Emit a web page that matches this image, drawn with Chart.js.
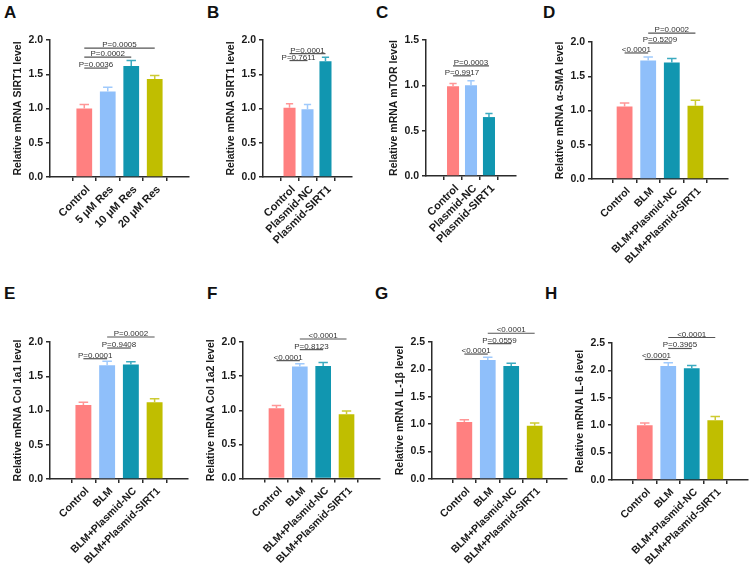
<!DOCTYPE html>
<html>
<head>
<meta charset="utf-8">
<script src="https://cdn.jsdelivr.net/npm/chart.js@4.4.1/dist/chart.umd.min.js"></script>
<style>
    html, body { margin: 0; padding: 0; background: #fff; }
    body { position: relative; width: 753px; height: 568px; overflow: hidden; font-family: "Liberation Sans", Arial, sans-serif; }
    canvas { position: absolute; }
    .tag { position: absolute; font-weight: bold; font-size: 17px; line-height: 1; color: #111; }
</style>
</head>
<body>
<div class="tag" style="left:4px;top:4px">A</div>
<div class="tag" style="left:207px;top:4px">B</div>
<div class="tag" style="left:376px;top:4px">C</div>
<div class="tag" style="left:543px;top:4px">D</div>
<div class="tag" style="left:4px;top:285px">E</div>
<div class="tag" style="left:207px;top:285px">F</div>
<div class="tag" style="left:375px;top:285px">G</div>
<div class="tag" style="left:545px;top:285px">H</div>

<canvas id="chartA"></canvas>
<canvas id="chartB"></canvas>
<canvas id="chartC"></canvas>
<canvas id="chartD"></canvas>
<canvas id="chartE"></canvas>
<canvas id="chartF"></canvas>
<canvas id="chartG"></canvas>
<canvas id="chartH"></canvas>

<script>
// 그룹 이름
const resGroups = ['Control', '5 μM Res', '10 μM Res', '20 μM Res'];
const plasmidGroups = ['Control', 'Plasmid-NC', 'Plasmid-SIRT1'];
const blmGroups = ['Control', 'BLM', 'BLM+Plasmid-NC', 'BLM+Plasmid-SIRT1'];

// 평균값과 오차
const sirt1Res = [1.00, 1.25, 1.62, 1.43];
const sirt1ResErr = [0.06, 0.06, 0.08, 0.05];
const sirt1Plasmid = [1.01, 0.99, 1.69];
const sirt1PlasmidErr = [0.06, 0.07, 0.06];
const mtorPlasmid = [0.99, 1.00, 0.65];
const mtorPlasmidErr = [0.03, 0.05, 0.04];
const smaBlm = [1.06, 1.73, 1.70, 1.07];
const smaBlmErr = [0.05, 0.05, 0.06, 0.08];
const col1a1Blm = [1.08, 1.66, 1.67, 1.12];
const col1a1BlmErr = [0.04, 0.06, 0.04, 0.05];
const col1a2Blm = [1.03, 1.64, 1.65, 0.94];
const col1a2BlmErr = [0.04, 0.04, 0.05, 0.05];
const il1bBlm = [1.04, 2.17, 2.06, 0.97];
const il1bBlmErr = [0.04, 0.05, 0.05, 0.05];
const il6Blm = [1.00, 2.08, 2.04, 1.09];
const il6BlmErr = [0.04, 0.06, 0.05, 0.07];

// 유의성 표시: [시작 그룹, 끝 그룹, 높이(값), 라벨]
const sirt1ResSig = [[0, 1, 1.59, 'P=0.0036'], [0, 2, 1.75, 'P=0.0002'], [0, 3, 1.88, 'P=0.0005']];
const sirt1PlasmidSig = [[0, 1, 1.70, 'P=0.7611'], [0, 2, 1.80, 'P=0.0001']];
const mtorPlasmidSig = [[0, 1, 1.105, 'P=0.9917'], [0, 2, 1.215, 'P=0.0003']];
const smaBlmSig = [[0, 1, 1.84, '<0.0001'], [1, 2, 1.985, 'P=0.5209'], [1, 3, 2.13, 'P=0.0002']];
const col1a1BlmSig = [[0, 1, 1.756, 'P=0.0001'], [1, 2, 1.912, 'P=0.9408'], [1, 3, 2.073, 'P=0.0002']];
const col1a2BlmSig = [[0, 1, 1.727, '<0.0001'], [1, 2, 1.888, 'P=0.8123'], [1, 3, 2.044, '<0.0001']];
const il1bBlmSig = [[0, 1, 2.28, '<0.0001'], [1, 2, 2.47, 'P=0.0559'], [1, 3, 2.66, '<0.0001']];
const il6BlmSig = [[0, 1, 2.20, '<0.0001'], [1, 2, 2.40, 'P=0.3965'], [1, 3, 2.60, '<0.0001']];

const barColors = ['rgb(255,128,128)', 'rgb(143,191,250)', 'rgb(17,150,176)', 'rgb(192,190,0)'];
const errColors = ['rgb(255,150,150)', 'rgb(160,202,252)', 'rgb(60,170,192)', 'rgb(205,203,50)'];
const axisColor = '#2b2b2b';
const textColor = '#1a1a1a';

Chart.defaults.font.family = '"Liberation Sans", Arial, sans-serif';

// 오차 막대 그리기
const errorBars = {
    id: 'errorBars',
    afterDatasetsDraw(chart) {
        const ctx = chart.ctx;
        const yScale = chart.scales.y;
        const ds = chart.data.datasets[0];
        chart.getDatasetMeta(0).data.forEach(function (bar, i) {
            const top = yScale.getPixelForValue(ds.data[i].y + ds.errors[i]);
            const half = bar.width * 0.3;
            ctx.save();
            ctx.strokeStyle = errColors[i];
            ctx.lineWidth = 1.5;
            ctx.beginPath();
            ctx.moveTo(bar.x, bar.y);
            ctx.lineTo(bar.x, top);
            ctx.moveTo(bar.x - half, top);
            ctx.lineTo(bar.x + half, top);
            ctx.stroke();
            ctx.restore();
        });
    }
};

// 유의성 선과 P값 그리기
const sigBrackets = {
    id: 'sigBrackets',
    afterDraw(chart) {
        const ctx = chart.ctx;
        const xScale = chart.scales.x;
        const yScale = chart.scales.y;
        chart.data.datasets[0].sig.forEach(function (b) {
            const x1 = xScale.getPixelForValue(b[0]);
            const x2 = xScale.getPixelForValue(b[1]);
            const y = yScale.getPixelForValue(b[2]);
            ctx.save();
            ctx.strokeStyle = '#555';
            ctx.lineWidth = 1.2;
            ctx.beginPath();
            ctx.moveTo(x1, y);
            ctx.lineTo(x2, y);
            ctx.stroke();
            ctx.fillStyle = '#333';
            ctx.font = '8px "Liberation Sans", Arial, sans-serif';
            ctx.textAlign = 'center';
            ctx.textBaseline = 'alphabetic';
            ctx.fillText(b[3], (x1 + x2) / 2, y - 1);
            ctx.restore();
        });
    }
};

function makeChart(p) {
    const canvas = document.getElementById(p.id);
    const left = p.axisX - 45;
    const width = Math.round(p.right - left + 4);
    canvas.width = width;
    canvas.height = p.rowH;
    canvas.style.left = left + 'px';
    canvas.style.top = p.rowTop + 'px';
    canvas.style.width = width + 'px';
    canvas.style.height = p.rowH + 'px';
    const n = p.groups.length;

    return new Chart(canvas.getContext('2d'), {
        type: 'bar',
        data: {
            datasets: [{
                data: p.values.map(function (v, i) { return { x: i, y: v }; }),
                errors: p.errors,
                sig: p.sig,
                backgroundColor: barColors.slice(0, n),
                barPercentage: 0.67,
                categoryPercentage: 1
            }]
        },
        options: {
            responsive: false,
            animation: false,
            devicePixelRatio: 1,
            layout: { padding: { top: p.top - p.rowTop, right: width - (p.right - left), left: 0, bottom: 0 } },
            plugins: {
                legend: { display: false },
                tooltip: { enabled: false }
            },
            scales: {
                x: {
                    type: 'linear',
                    min: -p.pad,
                    max: n - 1 + p.pad,
                    afterBuildTicks: function (s) {
                        s.ticks = p.groups.map(function (g, i) { return { value: i }; });
                    },
                    afterFit: function (s) {
                        s.height = p.rowTop + p.rowH - p.bottom;
                        s.paddingLeft = 0;
                        s.paddingRight = 0;
                    },
                    ticks: {
                        autoSkip: false,
                        minRotation: 45,
                        maxRotation: 45,
                        padding: 2,
                        labelOffset: 4,
                        font: { size: p.labelSize, weight: 'bold' },
                        color: textColor,
                        callback: function (v) { return p.groups[v]; }
                    },
                    grid: { drawOnChartArea: false, tickLength: 4, color: axisColor, lineWidth: 1.5 },
                    border: { color: axisColor, width: 1.5 }
                },
                y: {
                    min: 0,
                    max: p.yMax,
                    afterFit: function (s) {
                        s.width = 45;
                        s.paddingTop = 0;
                        s.paddingBottom = 0;
                    },
                    ticks: {
                        stepSize: 0.5,
                        padding: 3,
                        font: { size: 10.5, weight: 'bold' },
                        color: textColor,
                        callback: function (v) { return v.toFixed(1); }
                    },
                    title: {
                        display: true,
                        text: p.title,
                        font: { size: 10.5, weight: 'bold' },
                        color: textColor,
                        padding: { top: 6.5, bottom: 0 }
                    },
                    grid: { drawOnChartArea: false, tickLength: 4, color: axisColor, lineWidth: 1.5 },
                    border: { color: axisColor, width: 1.5 }
                }
            }
        },
        plugins: [errorBars, sigBrackets]
    });
}

// 패널 위치
makeChart({ id: 'chartA', groups: resGroups, values: sirt1Res, errors: sirt1ResErr, sig: sirt1ResSig, labelSize: 11,
    title: 'Relative mRNA SIRT1 level', yMax: 2, axisX: 50, top: 40, bottom: 177, right: 189, rowTop: 0, rowH: 280, pad: 0.72 });
makeChart({ id: 'chartB', groups: plasmidGroups, values: sirt1Plasmid, errors: sirt1PlasmidErr, sig: sirt1PlasmidSig, labelSize: 11,
    title: 'Relative mRNA SIRT1 level', yMax: 2, axisX: 263, top: 40, bottom: 177, right: 352, rowTop: 0, rowH: 280, pad: 0.65 });
makeChart({ id: 'chartC', groups: plasmidGroups, values: mtorPlasmid, errors: mtorPlasmidErr, sig: mtorPlasmidSig, labelSize: 11,
    title: 'Relative mRNA mTOR level', yMax: 1.5, axisX: 426, top: 40, bottom: 176, right: 516, rowTop: 0, rowH: 280, pad: 0.67 });
makeChart({ id: 'chartD', groups: blmGroups, values: smaBlm, errors: smaBlmErr, sig: smaBlmSig, labelSize: 10.5,
    title: 'Relative mRNA α-SMA level', yMax: 2, axisX: 592, top: 42, bottom: 179, right: 728, rowTop: 0, rowH: 280, pad: 0.66 });
makeChart({ id: 'chartE', groups: blmGroups, values: col1a1Blm, errors: col1a1BlmErr, sig: col1a1BlmSig, labelSize: 10.5,
    title: 'Relative mRNA Col 1a1 level', yMax: 2, axisX: 50, top: 342, bottom: 479, right: 188, rowTop: 280, rowH: 288, pad: 0.68 });
makeChart({ id: 'chartF', groups: blmGroups, values: col1a2Blm, errors: col1a2BlmErr, sig: col1a2BlmSig, labelSize: 10.5,
    title: 'Relative mRNA Col 1a2 level', yMax: 2, axisX: 243, top: 342, bottom: 478.5, right: 380, rowTop: 280, rowH: 288, pad: 0.7 });
makeChart({ id: 'chartG', groups: blmGroups, values: il1bBlm, errors: il1bBlmErr, sig: il1bBlmSig, labelSize: 10.5,
    title: 'Relative mRNA IL-1β level', yMax: 2.5, axisX: 432, top: 342, bottom: 479, right: 567, rowTop: 280, rowH: 288, pad: 0.66 });
makeChart({ id: 'chartH', groups: blmGroups, values: il6Blm, errors: il6BlmErr, sig: il6BlmSig, labelSize: 10.5,
    title: 'Relative mRNA IL-6 level', yMax: 2.5, axisX: 612, top: 343, bottom: 480, right: 748, rowTop: 280, rowH: 288, pad: 0.67 });
</script>
</body>
</html>
